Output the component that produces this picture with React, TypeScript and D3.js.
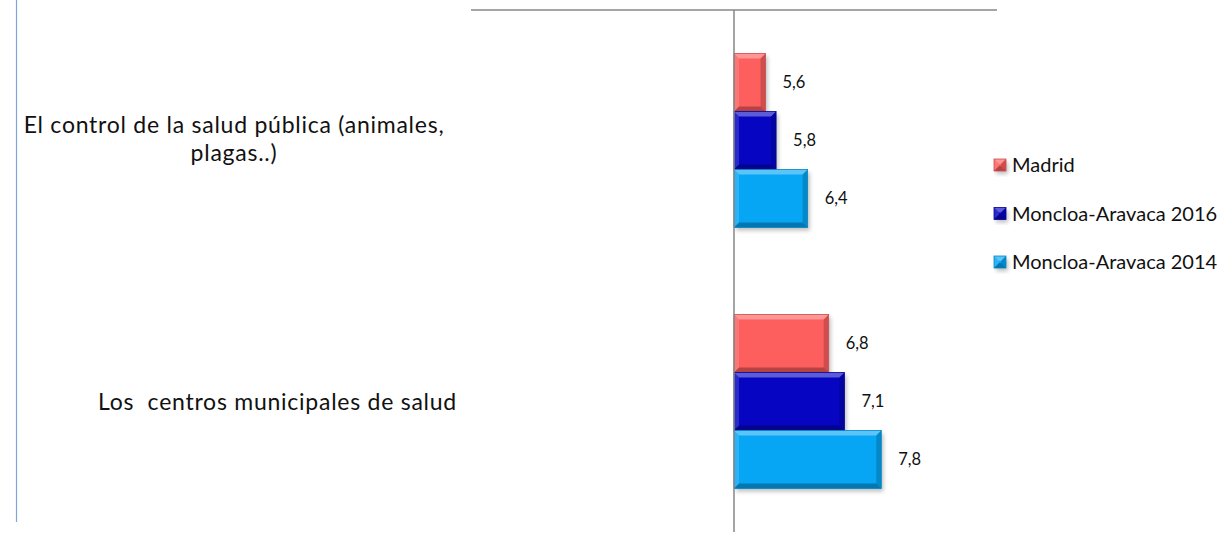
import React from "react";
import * as d3 from "d3";

const categories = ["El control de la salud pública (animales, plagas..)", "Los  centros municipales de salud"];
const categoryLines = [["El control de la salud pública (animales,", "plagas..)"], ["Los  centros municipales de salud"]];
const seriesNames = ["Madrid", "Moncloa-Aravaca 2016", "Moncloa-Aravaca 2014"];
const madrid = [5.6, 6.8];
const moncloa2016 = [5.8, 7.1];
const moncloa2014 = [6.4, 7.8];
const seriesColors = ["#FD5E5E", "#0505C2", "#06A6F4"];
const xDomain = [0, 10];
const axisCross = 5;

const W = 1230;
const H = 540;
const FONT = "Lato, 'Open Sans', sans-serif";

function Bevel({ x0, y0, w, h, color }: { x0: number; y0: number; w: number; h: number; color: string }) {
  const b = Math.min(5, w / 2, h / 2);
  const x1 = x0 + w;
  const y1 = y0 + h;
  const dark = d3.color(color)!.darker(0.6).toString();
  return (
    <g>
      <rect x={x0 + 2} y={y0 + 3} width={w} height={h} fill="#000" opacity={0.25} filter="url(#shadow)" />
      <rect x={x0} y={y0} width={w} height={h} fill={color} />
      <polygon points={`${x0},${y0} ${x1},${y0} ${x1 - b},${y0 + b} ${x0 + b},${y0 + b}`} fill="#fff" opacity={0.35} />
      <polygon points={`${x0},${y0} ${x0 + b},${y0 + b} ${x0 + b},${y1 - b} ${x0},${y1}`} fill="#fff" opacity={0.15} />
      <polygon points={`${x1},${y0} ${x1},${y1} ${x1 - b},${y1 - b} ${x1 - b},${y0 + b}`} fill="#000" opacity={0.18} />
      <polygon points={`${x0},${y1} ${x0 + b},${y1 - b} ${x1 - b},${y1 - b} ${x1},${y1}`} fill="#000" opacity={0.28} />
      <rect x={x0} y={y0} width={w} height={h} fill="none" stroke={dark} strokeWidth={0.8} />
    </g>
  );
}

export default function App() {
  const series = [madrid, moncloa2016, moncloa2014];
  const plotTop = 10;
  const plotBottom = 532;
  const x = d3.scaleLinear().domain(xDomain).range([471, 997]);
  const y = d3.scaleBand<string>().domain(categories).range([plotTop, plotBottom]).paddingInner(1 / 3).paddingOuter(1 / 6);
  const inner = d3.scaleBand<string>().domain(seriesNames).range([0, y.bandwidth()]);
  const x5 = x(axisCross);
  const legendY = d3.scalePoint<string>().domain(seriesNames).range([165, 262]);
  const catFont = 23;
  const catSpacing = 0.75;
  const lineGap = 27.6;

  return (
    <svg width={W} height={H} style={{ position: "absolute", left: 0, top: 0, background: "#fff" }} fontFamily={FONT}>
      <defs>
        <filter id="shadow" x="-10%" y="-10%" width="130%" height="130%">
          <feGaussianBlur stdDeviation={2} />
        </filter>
      </defs>
      <rect width={W} height={H} fill="#fff" />
      <line x1={16.5} x2={16.5} y1={0} y2={522} stroke="#7FA6DA" strokeWidth={1.2} />

      {/* bars */}
      {categories.map((c, ci) => (
        <g key={c}>
          {seriesNames.map((s, si) => {
            const v = series[si][ci];
            const y0 = (y(c) as number) + (inner(s) as number);
            const h = inner.bandwidth();
            return (
              <g key={s}>
                <Bevel x0={x5} y0={y0} w={x(v) - x5} h={h} color={seriesColors[si]} />
                <text x={x(v) + 17} y={y0 + h / 2} dy="0.35em" fontSize={16.5} fill="#111">
                  {String(v).replace(".", ",")}
                </text>
              </g>
            );
          })}
        </g>
      ))}

      {/* axes */}
      <line x1={x(xDomain[0])} x2={x(xDomain[1])} y1={plotTop} y2={plotTop} stroke="#878787" strokeWidth={1.5} />
      <line x1={x5} x2={x5} y1={plotTop} y2={plotBottom} stroke="#878787" strokeWidth={1.5} />

      {/* category labels */}
      <text x={234} y={(y(categories[0]) as number) + y.bandwidth() / 2 - lineGap / 2 - 1.7} dy="0.35em" fontSize={catFont} letterSpacing={catSpacing} textAnchor="middle" fill="#111">
        <tspan x={234}>{categoryLines[0][0]}</tspan>
        <tspan x={234} dy={lineGap}>{categoryLines[0][1]}</tspan>
      </text>
      <text x={457} y={(y(categories[1]) as number) + y.bandwidth() / 2} dy="0.35em" fontSize={catFont} letterSpacing={catSpacing} textAnchor="end" fill="#111" style={{ whiteSpace: "pre" }}>
        {categoryLines[1][0]}
      </text>

      {/* legend */}
      {seriesNames.map((s, si) => {
        const ly = legendY(s) as number;
        return (
          <g key={s}>
            <Bevel x0={994} y0={ly - 6} w={12} h={12} color={seriesColors[si]} />
            <text x={1012} y={ly} dy="0.35em" fontSize={20} fill="#111">
              {s}
            </text>
          </g>
        );
      })}
    </svg>
  );
}
